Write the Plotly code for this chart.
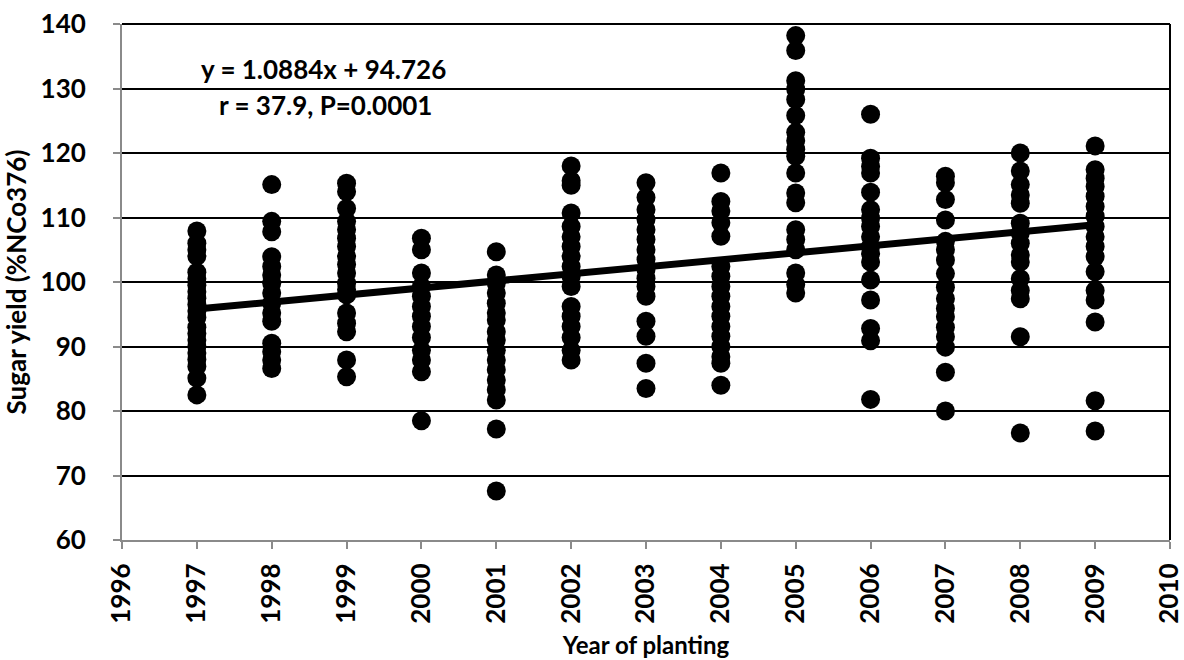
import plotly.graph_objects as go

# Sugar yield (% of NCo376) of individual varieties, grouped by year of planting
years = [1997, 1998, 1999, 2000, 2001, 2002, 2003, 2004, 2005, 2006, 2007, 2008, 2009]

yield_1997 = [107.9, 106.0, 105.0, 104.0, 101.5, 100.5, 99.5, 98.5, 97.5, 96.5, 95.5, 94.5, 93.0,
              92.0, 91.0, 90.0, 89.0, 88.0, 86.9, 85.1, 82.5]
yield_1998 = [115.1, 109.4, 107.8, 103.9, 102.4, 101.1, 99.8, 98.3, 96.7, 95.2, 93.9, 90.5, 89.2,
              87.9, 86.6]
yield_1999 = [115.3, 114.0, 111.4, 109.4, 108.1, 106.8, 105.5, 104.0, 102.7, 101.4, 99.8, 98.8,
              98.0, 95.2, 93.6, 92.3, 87.9, 85.3]
yield_2000 = [106.8, 105.0, 101.4, 99.3, 97.8, 96.2, 94.7, 93.1, 91.4, 89.4, 87.9, 86.1, 78.5]
yield_2001 = [104.7, 101.1, 99.8, 98.3, 96.7, 95.2, 94.1, 92.3, 91.0, 89.4, 87.9, 86.4, 84.8,
              83.3, 81.7, 77.2, 67.6]
yield_2002 = [118.0, 115.7, 115.0, 110.7, 108.6, 107.0, 105.5, 104.0, 102.4, 100.8, 99.3, 96.2,
              94.7, 93.1, 91.4, 89.4, 87.9]
yield_2003 = [115.4, 113.1, 111.2, 109.7, 108.1, 106.6, 105.0, 103.5, 101.9, 100.6, 99.3, 97.8,
              93.9, 91.6, 87.4, 83.5]
yield_2004 = [116.9, 112.5, 111.0, 109.2, 107.1, 102.4, 100.9, 99.3, 97.8, 96.2, 94.7, 93.1,
              91.6, 90.0, 88.4, 87.4, 84.0]
yield_2005 = [138.2, 135.9, 131.2, 129.9, 128.3, 125.8, 123.2, 121.9, 120.6, 119.5, 116.9, 113.8,
              112.3, 108.1, 106.6, 105.0, 101.4, 99.6, 98.3]
yield_2006 = [126.0, 119.2, 117.9, 116.9, 113.9, 111.2, 109.9, 108.6, 107.0, 105.5, 104.4, 103.1,
              100.3, 97.2, 92.8, 90.9, 81.8]
yield_2007 = [116.4, 115.4, 112.8, 109.6, 106.3, 105.0, 103.4, 101.3, 99.2, 97.4, 95.9, 94.6,
              93.0, 91.5, 89.9, 86.0, 80.0]
yield_2008 = [120.0, 117.2, 115.1, 113.5, 112.2, 109.1, 107.6, 106.0, 104.2, 103.1, 100.5, 98.7,
              97.4, 91.5, 76.6]
yield_2009 = [121.1, 117.4, 116.1, 114.8, 113.3, 111.7, 110.2, 108.6, 107.0, 105.5, 103.9, 101.6,
              98.7, 97.2, 93.8, 81.6, 76.9]

yield_by_year = [yield_1997, yield_1998, yield_1999, yield_2000, yield_2001, yield_2002, yield_2003,
                 yield_2004, yield_2005, yield_2006, yield_2007, yield_2008, yield_2009]

# Linear trend: y = slope * x + intercept, with x = 1 for the first planting year
slope = 1.0884
intercept = 94.726

equation_text = "y = 1.0884x + 94.726"
stats_text = "r = 37.9, P=0.0001"
x_title = "Year of planting"
y_title = "Sugar yield (%NCo376)"

x_ticks = list(range(1996, 2011))
y_ticks = list(range(60, 141, 10))

xs, ys = [], []
for yr, vals in zip(years, yield_by_year):
    xs.extend([yr] * len(vals))
    ys.extend(vals)

trend_x = [years[0], years[-1]]
trend_y = [slope * (x - 1996) + intercept for x in trend_x]

FONT = "Lato, 'Open Sans', Arial, sans-serif"

fig = go.Figure()
fig.add_trace(go.Scatter(
    x=xs, y=ys, mode="markers",
    marker=dict(color="black", size=19, line=dict(width=0)),
    showlegend=False, hoverinfo="x+y",
))
fig.add_trace(go.Scatter(
    x=trend_x, y=trend_y, mode="lines",
    line=dict(color="black", width=7),
    showlegend=False, hoverinfo="skip",
))

fig.update_layout(
    width=1184, height=660,
    margin=dict(l=122, r=14, t=24, b=120),
    paper_bgcolor="white", plot_bgcolor="white",
    font=dict(family=FONT, color="black"),
    xaxis=dict(
        range=[1996, 2010], tickmode="array", tickvals=x_ticks,
        ticktext=[str(t) for t in x_ticks], tickangle=-90,
        tickfont=dict(family=FONT, size=26, weight="bold", color="black"),
        showgrid=False, zeroline=False, automargin=False,
        ticklabeloverflow="allow",
        showline=True, linecolor="#8a8a8a", linewidth=2,
        ticks="outside", ticklen=7, tickcolor="#8a8a8a", tickwidth=1.5,
        ticklabelstandoff=4,
        title=dict(text=x_title, font=dict(family=FONT, size=24, weight="bold"), standoff=14),
    ),
    yaxis=dict(
        range=[60, 140], tickmode="array", tickvals=y_ticks,
        tickfont=dict(family=FONT, size=26, weight="bold", color="black"),
        showgrid=True, gridcolor="black", gridwidth=1.5, zeroline=False, automargin=False,
        showline=True, linecolor="#8a8a8a", linewidth=2,
        ticks="outside", ticklen=7, tickcolor="#8a8a8a", tickwidth=1.5,
        ticklabelstandoff=22,
        title=dict(text=y_title, font=dict(family=FONT, size=26, weight="bold"), standoff=14),
    ),
    annotations=[
        dict(x=0.192, y=0.913, xref="paper", yref="paper", text="<b>" + equation_text + "</b>",
             xanchor="center", yanchor="middle",
             showarrow=False, font=dict(family=FONT, size=26, color="black")),
        dict(x=0.194, y=0.843, xref="paper", yref="paper", text="<b>" + stats_text + "</b>",
             xanchor="center", yanchor="middle",
             showarrow=False, font=dict(family=FONT, size=26, color="black")),
    ],
    shapes=[
        dict(type="line", xref="paper", yref="paper", x0=1, x1=1, y0=0, y1=1,
             line=dict(color="black", width=2)),
        dict(type="line", xref="paper", yref="paper", x0=0, x1=1, y0=1, y1=1,
             line=dict(color="black", width=2)),
    ],
)

fig.write_html("out.html")
